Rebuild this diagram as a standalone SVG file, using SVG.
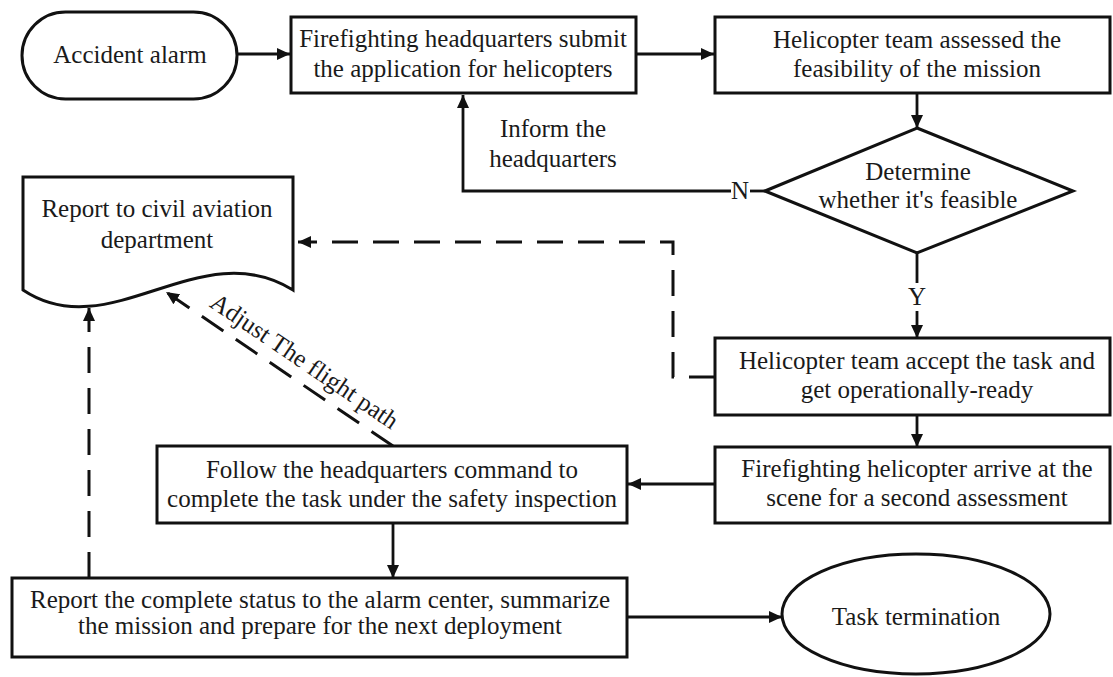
<svg xmlns="http://www.w3.org/2000/svg" width="1113" height="677" viewBox="0 0 1113 677">
<style>
.shape{fill:#fff;stroke:#111;stroke-width:3}
.t{font-family:"Liberation Serif","Times New Roman",serif;font-size:25px;fill:#1a1a1a;text-anchor:middle}
.ln{fill:none;stroke:#111;stroke-width:2.8}
.dash{fill:none;stroke:#111;stroke-width:3;stroke-dasharray:26 15}
</style>
<defs>
<marker id="ah" markerUnits="userSpaceOnUse" markerWidth="14" markerHeight="12" refX="13" refY="6" orient="auto">
<path d="M0,0 L13,6 L0,12 z" fill="#111"/>
</marker>
</defs>
<rect width="1113" height="677" fill="#fff"/>

<g id="connectors">
<line class="ln" x1="237" y1="54" x2="290" y2="54" marker-end="url(#ah)"/>
<line class="ln" x1="636" y1="54" x2="714" y2="54" marker-end="url(#ah)"/>
<line class="ln" x1="917" y1="93" x2="917" y2="128" marker-end="url(#ah)"/>
<polyline class="ln" points="731,191 463,191 463,95" marker-end="url(#ah)"/>
<line class="ln" x1="750" y1="191" x2="765" y2="191"/>
<text class="t" x="740" y="199" font-size="23">N</text>
<line class="ln" x1="917" y1="253" x2="917" y2="283"/>
<text class="t" x="917" y="305" font-size="23">Y</text>
<line class="ln" x1="917" y1="311" x2="917" y2="338" marker-end="url(#ah)"/>
<line class="ln" x1="917" y1="415" x2="917" y2="447" marker-end="url(#ah)"/>
<line class="ln" x1="715" y1="484" x2="628" y2="484" marker-end="url(#ah)"/>
<line class="ln" x1="393" y1="523" x2="393" y2="578" marker-end="url(#ah)"/>
<line class="ln" x1="627" y1="617" x2="782" y2="617" marker-end="url(#ah)"/>
<path class="dash" d="M715,377 H673 V242 H298" marker-end="url(#ah)"/>
<line class="dash" x1="89" y1="578" x2="89" y2="308" marker-end="url(#ah)"/>
<line class="dash" x1="393" y1="446" x2="166" y2="292" marker-end="url(#ah)"/>
<text class="t" x="553" y="137">Inform the</text>
<text class="t" x="553" y="167">headquarters</text>
<text class="t" transform="translate(300,368) rotate(34.2)" x="0" y="0" font-size="24">Adjust The flight path</text>
</g>

<g id="accident-alarm">
<rect class="shape" x="22" y="12" width="215" height="87" rx="43.5" ry="43.5"/>
<text class="t" x="130" y="63">Accident alarm</text>
</g>

<g id="submit-application">
<rect class="shape" x="291" y="17" width="345" height="76"/>
<text class="t" x="463" y="47">Firefighting headquarters submit</text>
<text class="t" x="463" y="77">the application for helicopters</text>
</g>

<g id="assess-feasibility">
<rect class="shape" x="715" y="17" width="395" height="76"/>
<text class="t" x="917" y="48">Helicopter team assessed the</text>
<text class="t" x="917" y="77">feasibility of the mission</text>
</g>

<g id="determine-feasible">
<polygon class="shape" points="917,128 1073,191 917,253 765,191"/>
<text class="t" x="918" y="180">Determine</text>
<text class="t" x="918" y="208">whether it's feasible</text>
</g>

<g id="report-civil-aviation">
<path class="shape" d="M23,177 H293 V290 C200,232 110,348 23,290 Z"/>
<text class="t" x="157" y="217">Report to civil aviation</text>
<text class="t" x="157" y="248">department</text>
</g>

<g id="accept-task">
<rect class="shape" x="715" y="338" width="395" height="77"/>
<text class="t" x="917" y="369">Helicopter team accept the task and</text>
<text class="t" x="917" y="398">get operationally-ready</text>
</g>

<g id="arrive-scene">
<rect class="shape" x="715" y="447" width="395" height="76"/>
<text class="t" x="917" y="477">Firefighting helicopter arrive at the</text>
<text class="t" x="917" y="506">scene for a second  assessment</text>
</g>

<g id="follow-command">
<rect class="shape" x="157" y="446" width="470" height="77"/>
<text class="t" x="392" y="478">Follow the headquarters command to</text>
<text class="t" x="392" y="507">complete the task under the safety inspection</text>
</g>

<g id="report-status">
<rect class="shape" x="12" y="578" width="615" height="79"/>
<text class="t" x="320" y="608">Report the complete status to the alarm center, summarize</text>
<text class="t" x="320" y="634">the mission and prepare for the next deployment</text>
</g>

<g id="task-termination">
<ellipse class="shape" cx="916" cy="614" rx="134" ry="60"/>
<text class="t" x="916" y="625">Task termination</text>
</g>
</svg>
